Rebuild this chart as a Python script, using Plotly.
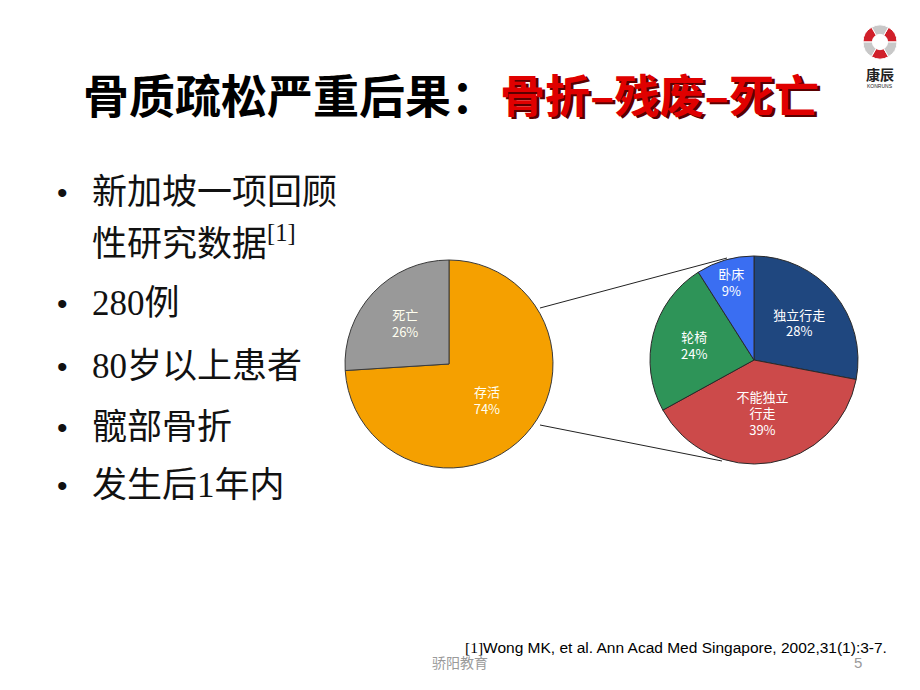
import plotly.graph_objects as go

W, H = 920, 690

# ---- data ----
outcome_labels = ["存活", "死亡"]
outcome_values = [74, 26]
outcome_colors = ["#F5A000", "#999999"]

survivor_labels = ["独立行走", "不能独立行走", "轮椅", "卧床"]
survivor_display = ["独立行走", "不能独立<br>行走", "轮椅", "卧床"]
survivor_values = [28, 39, 24, 9]
survivor_colors = ["#1F477F", "#CC4A4A", "#2E9458", "#3A6EF2"]

bullets = ["新加坡一项回顾", "280例", "80岁以上患者", "髋部骨折", "发生后1年内"]
logo_segments = [1, 1, 1, 1, 1, 1]
logo_colors = ["#D0202A", "#C8C8C8", "#D0202A", "#C8C8C8", "#D0202A", "#C8C8C8"]


def px_x(x):
    return x / W


def px_y(y):
    return 1 - y / H


fig = go.Figure()

# left pie
cx, cy, r = 449, 364, 104
fig.add_trace(go.Pie(
    labels=outcome_labels, values=outcome_values, sort=False, direction="clockwise",
    rotation=0,
    marker=dict(colors=outcome_colors, line=dict(color="#3a3a3a", width=1)),
    text=[f"{l}<br>{v}%" for l, v in zip(outcome_labels, outcome_values)],
    texttemplate="%{text}", textposition="inside", insidetextorientation="horizontal",
    insidetextfont=dict(color="#FFFFF0", size=13, family="Noto Sans CJK SC"),
    domain=dict(x=[px_x(cx - r), px_x(cx + r)], y=[px_y(cy + r), px_y(cy - r)]),
    hoverinfo="label+percent", showlegend=False,
))

# right pie
cx2, cy2, r2 = 754, 360, 104
fig.add_trace(go.Pie(
    labels=survivor_labels, values=survivor_values, sort=False, direction="clockwise",
    rotation=0,
    marker=dict(colors=survivor_colors, line=dict(color="#2a2a2a", width=1)),
    text=[f"{l}<br>{v}%" for l, v in zip(survivor_display, survivor_values)],
    texttemplate="%{text}", textposition="inside", insidetextorientation="horizontal",
    insidetextfont=dict(color="#FFFFFF", size=13, family="Noto Sans CJK SC"),
    domain=dict(x=[px_x(cx2 - r2), px_x(cx2 + r2)], y=[px_y(cy2 + r2), px_y(cy2 - r2)]),
    hoverinfo="label+percent", showlegend=False,
))

# logo ring
lcx, lcy, lr = 880, 42, 17
fig.add_trace(go.Pie(
    values=logo_segments, sort=False, hole=0.45, rotation=30,
    marker=dict(colors=logo_colors, line=dict(color="white", width=1)),
    textinfo="none", hoverinfo="skip", showlegend=False,
    domain=dict(x=[px_x(lcx - lr), px_x(lcx + lr)], y=[px_y(lcy + lr), px_y(lcy - lr)]),
))

shapes = [
    dict(type="line", xref="paper", yref="paper",
         x0=px_x(540), y0=px_y(308), x1=px_x(727), y1=px_y(258),
         line=dict(color="#222", width=1)),
    dict(type="line", xref="paper", yref="paper",
         x0=px_x(540), y0=px_y(425), x1=px_x(722), y1=px_y(461),
         line=dict(color="#222", width=1)),
]

ann = []
title_font = "Noto Sans CJK SC"
ann.append(dict(text="骨质疏松严重后果：", x=px_x(81), y=px_y(93), xanchor="left", yanchor="middle",
                showarrow=False, font=dict(family=title_font, size=46, color="#000", weight="bold")))
ann.append(dict(text="骨折–残废–死亡", x=px_x(498 + 3), y=px_y(93 + 3), xanchor="left", yanchor="middle",
                showarrow=False, font=dict(family=title_font, size=45, color="#5a0000", weight="bold")))
ann.append(dict(text="骨折–残废–死亡", x=px_x(498), y=px_y(93), xanchor="left", yanchor="middle",
                showarrow=False, font=dict(family=title_font, size=45, color="#E00000", weight="bold")))

body_font = "Liberation Serif, Noto Sans CJK SC"
bullet_y = [193, 303, 366, 427, 485]
for t, y in zip(bullets, bullet_y):
    ann.append(dict(text="•", x=px_x(62), y=px_y(y), xanchor="center", yanchor="middle",
                    showarrow=False, font=dict(family="Liberation Sans", size=30, color="#111")))
    ann.append(dict(text=t, x=px_x(90), y=px_y(y), xanchor="left", yanchor="middle",
                    showarrow=False, font=dict(family=body_font, size=35, color="#111")))
ann.append(dict(text="性研究数据<sup>[1]</sup>", x=px_x(90), y=px_y(241), xanchor="left", yanchor="middle",
                showarrow=False, font=dict(family=body_font, size=35, color="#111")))

# footnote
ann.append(dict(text="<span style='font-family:Liberation Serif'>[1]</span>Wong MK, et al. Ann Acad Med Singapore, 2002,31(1):3-7.",
                x=px_x(463), y=px_y(647), xanchor="left", yanchor="middle", showarrow=False,
                font=dict(family="Liberation Sans", size=15.5, color="#000")))
ann.append(dict(text="骄阳教育", x=px_x(430), y=px_y(662), xanchor="left", yanchor="middle", showarrow=False,
                font=dict(family="Noto Sans CJK SC", size=14, color="#9a9a9a")))
ann.append(dict(text="5", x=px_x(858), y=px_y(662), xanchor="center", yanchor="middle", showarrow=False,
                font=dict(family="Liberation Sans", size=15, color="#9a9a9a")))

# logo text
ann.append(dict(text="康辰", x=px_x(880), y=px_y(74), xanchor="center", yanchor="middle", showarrow=False,
                font=dict(family="Noto Sans CJK SC", size=14, color="#222", weight="bold")))
ann.append(dict(text="KONRUNS", x=px_x(880), y=px_y(86), xanchor="center", yanchor="middle", showarrow=False,
                font=dict(family="Liberation Sans", size=5, color="#222")))

fig.update_layout(
    width=W, height=H, margin=dict(l=0, r=0, t=0, b=0),
    paper_bgcolor="white", plot_bgcolor="white",
    shapes=shapes, annotations=ann,
)

fig.write_html("out.html")
